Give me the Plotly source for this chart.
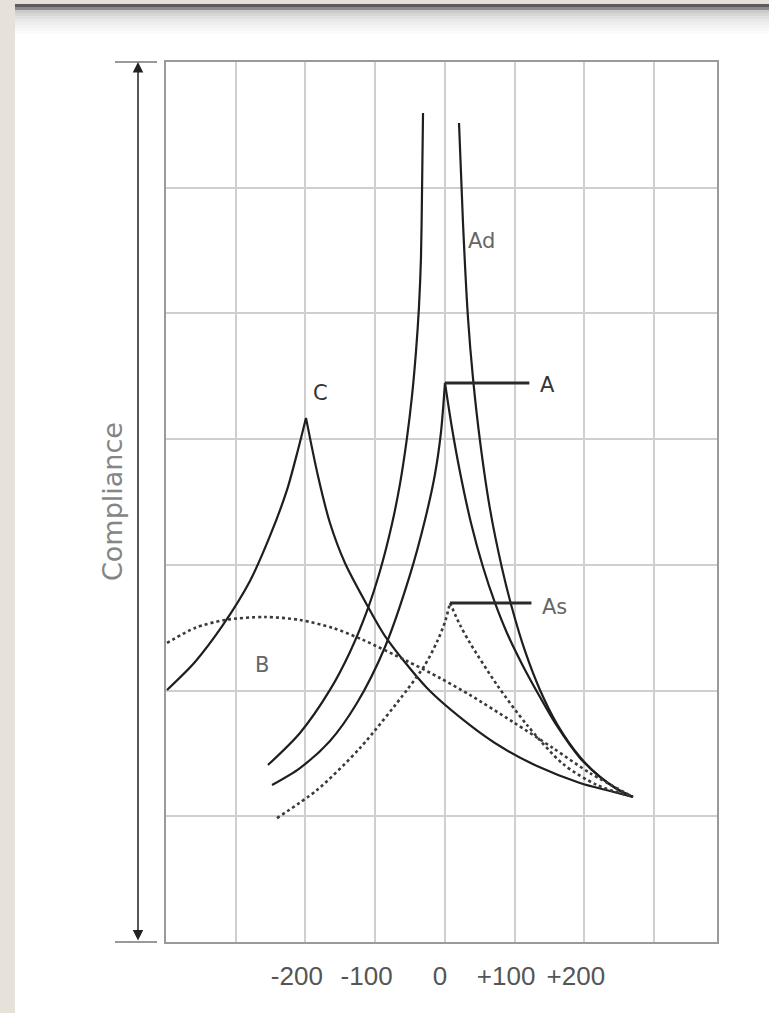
import plotly.graph_objects as go

# ---------------- data (pressure in daPa, compliance in grid units) -------------
grid_x = [-400, -300, -200, -100, 0, 100, 200, 300]
grid_y = [0, 1, 2, 3, 4, 5, 6, 7]
label_vals = [-200, -100, 0, 100, 200]
label_text = ["-200", "-100", "0", "+100", "+200"]

# Type Ad (open peak: two branches)
ad_left_x = [-253.8, -207.9, -164.9, -136.2, -111.8, -93.2, -76.0, -64.5, -54.5,
             -47.3, -41.6, -37.3, -34.4, -33.0, -31.5]
ad_left_y = [1.408, 1.663, 2.005, 2.307, 2.633, 2.951, 3.325, 3.644, 4.010,
             4.344, 4.694, 5.052, 5.449, 5.935, 6.595]
ad_right_x = [20.1, 25.8, 33.0, 40.1, 50.2, 64.5, 81.7, 96.1, 114.7, 136.2,
              160.6, 193.5, 222.2, 246.6, 269.5]
ad_right_y = [6.515, 5.720, 4.964, 4.487, 3.986, 3.445, 2.975, 2.657, 2.315, 2.005,
              1.734, 1.472, 1.313, 1.217, 1.154]

# Type A (peak shared by both branches)
a_left_x = [-248.0, -207.9, -164.9, -126.2, -86.0, -50.2, -28.7, -14.3, -5.7, 0]
a_left_y = [1.249, 1.384, 1.599, 1.901, 2.347, 2.920, 3.357, 3.723, 4.057, 4.447]
a_right_x = [0, 10.0, 21.5, 37.3, 54.5, 71.7, 88.9, 111.8, 136.2, 160.6, 193.5,
             222.2, 246.6, 269.5]
a_right_y = [4.447, 4.089, 3.739, 3.333, 2.983, 2.697, 2.458, 2.196, 1.949, 1.718,
             1.464, 1.313, 1.217, 1.154]

# Type As (dotted)
as_left_x = [-240.9, -183.5, -121.9, -54.5, -28.7, -11.5, 0, 7.2]
as_left_y = [0.986, 1.209, 1.543, 2.005, 2.204, 2.387, 2.546, 2.697]
as_right_x = [7.2, 21.5, 35.8, 74.6, 117.6, 169.2, 217.9, 269.5]
as_right_y = [2.697, 2.522, 2.379, 2.045, 1.726, 1.416, 1.249, 1.154]

# Type C
c_left_x = [-398.6, -358.4, -318.3, -279.6, -250.9, -226.5, -210.8, -199.3]
c_left_y = [2.005, 2.228, 2.522, 2.872, 3.230, 3.596, 3.914, 4.169]
c_right_x = [-199.3, -182.1, -164.9, -143.4, -111.8, -86.0, -25.8, 35.8, 83.2,
             131.9, 193.5, 236.6, 269.5]
c_right_y = [4.169, 3.707, 3.333, 3.015, 2.681, 2.434, 2.021, 1.726, 1.543,
             1.400, 1.265, 1.201, 1.154]

# Type B (dotted, flat)
b_x = [-398.6, -358.4, -315.4, -258.1, -207.9, -160.6, -117.6, -54.5, -7.2,
       35.8, 97.5, 154.8, 207.9, 269.5]
b_y = [2.379, 2.498, 2.562, 2.585, 2.562, 2.498, 2.403, 2.235, 2.100,
       1.965, 1.750, 1.543, 1.344, 1.154]

curve_labels = ["C", "B", "Ad", "A", "As"]
curve_label_x = [-179, -262, 53, 133, 136]
curve_label_y = [4.37, 2.20, 5.58, 4.43, 2.665]

y_title = "Compliance"

# ---------------- figure ---------------------------------------------------------
W, H = 769, 1013
L, R, T, B = 166, 52, 62, 71
PW, PH = W - L - R, H - T - B


def px_x(p):
    return (p - L) / PW


def px_y(p):
    return (H - B - p) / PH


solid = dict(color="#1e1e1e", width=2.2)
dotted = dict(color="#3a3a3a", width=2.6, dash="dot")

fig = go.Figure()


def add_branches(xl, yl, xr, yr, style):
    for xs, ys in ((xl, yl), (xr, yr)):
        fig.add_trace(go.Scatter(x=xs, y=ys, mode="lines",
                                 line=dict(shape="spline", smoothing=0.8, **style)))


add_branches(ad_left_x, ad_left_y, ad_right_x, ad_right_y, solid)
add_branches(a_left_x, a_left_y, a_right_x, a_right_y, solid)
add_branches(c_left_x, c_left_y, c_right_x, c_right_y, solid)
add_branches(as_left_x, as_left_y, as_right_x, as_right_y, dotted)
fig.add_trace(go.Scatter(x=b_x, y=b_y, mode="lines",
                         line=dict(shape="spline", smoothing=0.8, **dotted)))

# leader lines from the A and As peaks to their labels
for xs, ys, lab in [(a_left_x, a_left_y, "A"), (as_left_x, as_left_y, "As")]:
    k = ys.index(max(ys))
    lx = curve_label_x[curve_labels.index(lab)]
    fig.add_trace(go.Scatter(x=[xs[k], lx - 12], y=[ys[k], ys[k]], mode="lines",
                             line=dict(color="#2a2a2a", width=3)))

annotations = []
for t, x, y in zip(curve_labels, curve_label_x, curve_label_y):
    anchor = "left" if t in ("A", "As") else "center"
    annotations.append(dict(x=x, y=y, text=t, showarrow=False, xanchor=anchor,
                            yanchor="middle",
                            font=dict(family="DejaVu Sans", size=21,
                                      color="#333" if t in ("C", "A") else "#666")))

annotations.append(dict(x=0, y=0.5, xref="paper", yref="paper", xshift=-54,
                        xanchor="center", yanchor="middle",
                        text=y_title, textangle=-90, showarrow=False,
                        font=dict(family="DejaVu Sans", size=27, color="#858585")))
# double-headed compliance arrow
annotations.append(dict(x=0, y=1, xref="paper", yref="paper", xshift=-28,
                        ax=0, ay=PH, axref="pixel", ayref="pixel", text="",
                        showarrow=True, arrowside="end+start", arrowhead=2,
                        startarrowhead=2, arrowsize=1.4, startarrowsize=1.4,
                        arrowwidth=1.5, arrowcolor="#222"))

shapes = []
# end ticks of the compliance arrow
for yy in (1, 0):
    shapes.append(dict(type="line", xref="paper", yref="paper",
                       x0=px_x(115), x1=px_x(157), y0=yy, y1=yy,
                       line=dict(color="#999", width=2)))
# page decoration: beige left strip, dark top bar with soft gradient
shapes.append(dict(type="rect", xref="paper", yref="paper", layer="above",
                   x0=px_x(0), x1=px_x(15), y0=px_y(H), y1=px_y(0),
                   fillcolor="#e6e1d9", line=dict(width=0)))
shapes.append(dict(type="rect", xref="paper", yref="paper", layer="above",
                   x0=px_x(15), x1=px_x(W), y0=px_y(4), y1=px_y(0),
                   fillcolor="#e6e1d9", line=dict(width=0)))
bands = [(4, 7, "#5c5c5c"), (7, 10, "#8c8c8c")]
grads = ["#c9c9c9", "#d6d6d6", "#e0e0e0", "#e8e8e8", "#eeeeee", "#f3f3f3", "#f7f7f7", "#fbfbfb"]
for i, c in enumerate(grads):
    bands.append((10 + 3 * i, 13 + 3 * i, c))
for y0, y1, c in bands:
    shapes.append(dict(type="rect", xref="paper", yref="paper", layer="above",
                       x0=px_x(15), x1=px_x(W), y0=px_y(y1), y1=px_y(y0),
                       fillcolor=c, line=dict(width=0)))

pad = "\u00a0"
tick_text_all = []
for v in grid_x:
    if v in label_vals:
        s = label_text[label_vals.index(v)]
        tick_text_all.append(s + pad if v != 0 else s)
    else:
        tick_text_all.append("")

fig.update_layout(
    width=W, height=H,
    margin=dict(l=L, r=R, t=T, b=B, pad=0, autoexpand=False),
    paper_bgcolor="white", plot_bgcolor="white",
    showlegend=False, hovermode=False,
    annotations=annotations, shapes=shapes,
    xaxis=dict(range=[-400, 390], tickmode="array", tickvals=grid_x, ticktext=tick_text_all,
               showgrid=True, gridcolor="#cfcfcf", gridwidth=1.5, zeroline=False,
               showline=True, linecolor="#9a9a9a", linewidth=1.5, mirror=True,
               ticks="", ticklabelstandoff=10, ticklabelshift=-5, tickangle=0,
               automargin=False,
               tickfont=dict(family="Liberation Sans, sans-serif", size=26, color="#555")),
    yaxis=dict(range=[0, 7], tickmode="array", tickvals=grid_y, showticklabels=False,
               showgrid=True, gridcolor="#cfcfcf", gridwidth=1.5, zeroline=False,
               showline=True, linecolor="#9a9a9a", linewidth=1.5, mirror=True, ticks="",
               automargin=False),
)

fig.write_html("out.html", config={"displayModeBar": False},
               post_script="document.body.style.margin='0';")
